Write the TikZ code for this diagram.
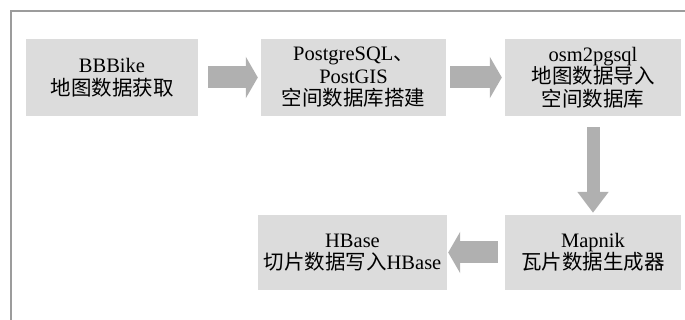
\documentclass[tikz,border=0pt]{standalone}
\usepackage{fontspec}
\setmainfont{Liberation Serif}
\newfontfamily\cjk{Noto Sans CJK SC}
\usetikzlibrary{arrows.meta}
\definecolor{boxgray}{HTML}{DCDCDC}
\definecolor{arrgray}{HTML}{B0B0B0}
\definecolor{framegray}{HTML}{9C9C9C}

\begin{document}
\begin{tikzpicture}[x=1pt, y=-1pt,
    blk/.style={fill=boxgray, inner sep=0pt, minimum height=77pt, align=center, font=\fontsize{20.5}{22.5}\selectfont},
    flow/.style={draw=arrgray, line width=22pt, -{Triangle[length=12pt,width=41pt,fill=arrgray]}},
    flowv/.style={draw=arrgray, line width=13pt, -{Triangle[length=21pt,width=30pt,fill=arrgray]}}]
    \useasboundingbox (0,0) rectangle (685,320);
    \draw[framegray, line width=1.8pt] (11,320) -- (11,11) -- (685,11);
    \node[blk, minimum width=172pt] (bbbike) at (112,77.5) {BBBike\\{\cjk 地图数据获取}};
    \node[blk, minimum width=185pt] (postgis) at (353.5,77.5) {PostgreSQL{\cjk 、}\\PostGIS\\{\cjk 空间数据库搭建}};
    \node[blk, minimum width=176pt] (osm) at (593,77.5) {osm2pgsql\\{\cjk 地图数据导入}\\{\cjk 空间数据库}};
    \node[blk, minimum width=176pt, minimum height=75pt] (mapnik) at (593,252.5) {Mapnik\\{\cjk 瓦片数据生成器}};
    \node[blk, minimum width=189pt, minimum height=75pt] (hbase) at (352.5,252.5) {HBase\\{\cjk 切片数据写入}HBase};
    \draw[flow, shorten <=10pt, shorten >=3pt] (bbbike) -- (postgis);
    \draw[flow, shorten <=4pt, shorten >=3pt] (postgis) -- (osm);
    \draw[flowv, shorten <=11pt, shorten >=2pt] (osm) -- (mapnik);
    \draw[flow, shorten <=7pt, shorten >=1pt] (mapnik) -- (hbase);
\end{tikzpicture}
\end{document}
